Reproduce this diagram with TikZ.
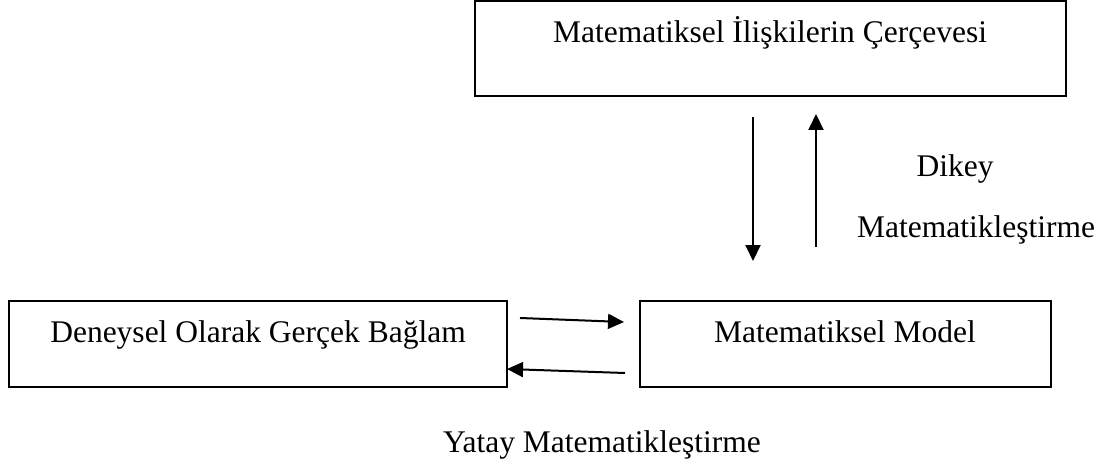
\documentclass[tikz,border=0pt]{standalone}
\usepackage{fontspec}
\setmainfont{Liberation Serif}
\usetikzlibrary{arrows.meta}
\begin{document}
\begin{tikzpicture}[x=1pt,y=-1pt,
  box/.style={draw,line width=2pt,inner sep=0pt},
  lbl/.style={font=\fontsize{31.5}{36}\selectfont,anchor=base,inner sep=0pt},
  conn/.style={line width=2pt,-{Triangle[length=16pt,width=15pt]}}]
\useasboundingbox (0,0) rectangle (1111,465);
% boxes
\node[box,minimum width=591pt,minimum height=95pt] (top) at (770.5,48.5) {};
\node[box,minimum width=498pt,minimum height=86pt] (left) at (258,344) {};
\node[box,minimum width=411pt,minimum height=86pt] (right) at (845.5,344) {};
% texts
\node[lbl] (ttop) at (770,43) {Matematiksel İlişkilerin Çerçevesi};
\node[lbl] (tleft) at (258,342) {Deneysel Olarak Gerçek Bağlam};
\node[lbl] (tright) at (845,342) {Matematiksel Model};
\node[lbl] (dikey) at (955,177) {Dikey};
\node[lbl] (dmat) at (976,237) {Matematikleştirme};
\node[lbl] (yatay) at (602,452) {Yatay Matematikleştirme};
% connector ends
\coordinate (d1) at (753,117);
\coordinate (d2) at (753,261);
\coordinate (u1) at (816,247);
\coordinate (u2) at (816,114);
\coordinate (r1) at (520,318);
\coordinate (r2) at (624,322);
\coordinate (l1) at (625,373);
\coordinate (l2) at (507,369);
\draw[conn] (d1) -- (d2);
\draw[conn] (u1) -- (u2);
\draw[conn] (r1) -- (r2);
\draw[conn] (l1) -- (l2);
\end{tikzpicture}
\end{document}
